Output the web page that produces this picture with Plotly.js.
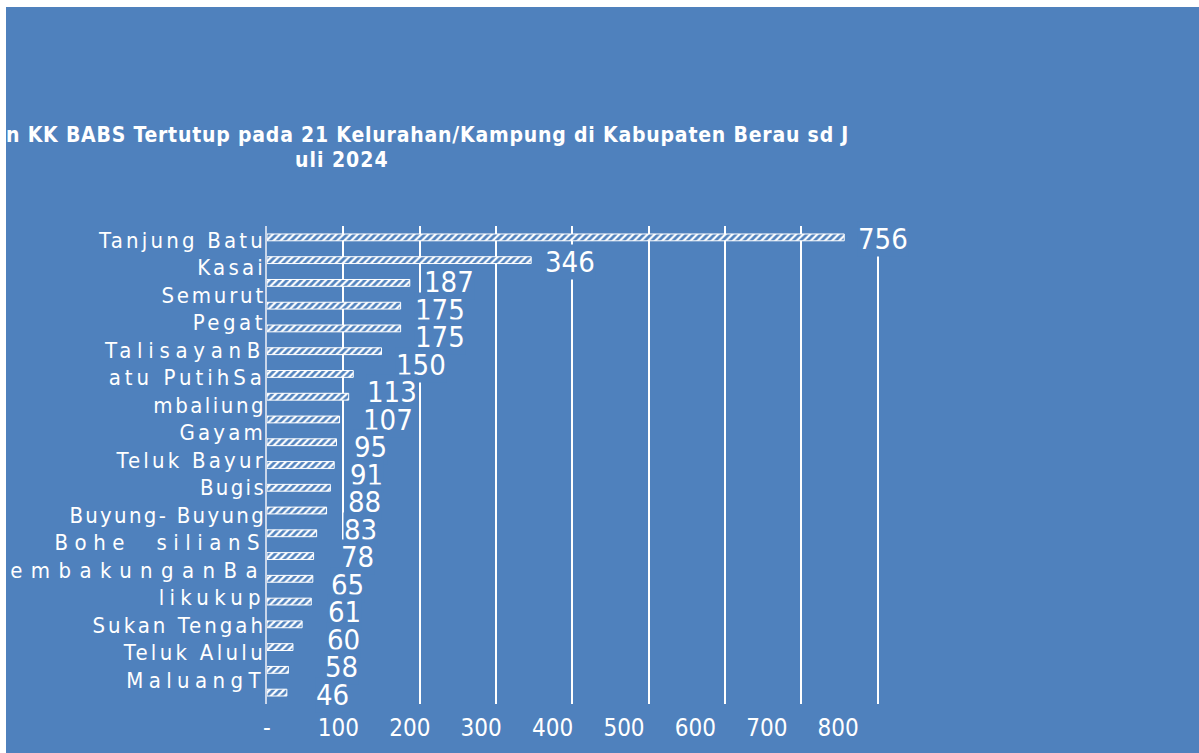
<!DOCTYPE html>
<html>
<head>
<meta charset="utf-8">
<script src="https://cdn.plot.ly/plotly-3.0.1.min.js"></script>
<style>
  html, body { margin: 0; padding: 0; background: #ffffff; }
  #chart { position: absolute; left: 6px; top: 7px; width: 1193px; height: 746px; }
  .y2tick text { letter-spacing: 3.2px; }
  .gtitle { letter-spacing: 0.8px; }
  .annotation[data-index="0"] text { letter-spacing: 1px; }
</style>
</head>
<body>
<div id="chart"></div>
<script>
// ---- data ----
const titleLine1 = "n KK BABS Tertutup pada 21 Kelurahan/Kampung di Kabupaten Berau sd J";
const titleLine2 = "uli 2024";
const categoryLabels = ["Tanjung Batu", "Kasai", "Semurut", "Pegat", "TalisayanB", "atu PutihSa",
  "mbaliung", "Gayam", "Teluk Bayur", "Bugis", "Buyung- Buyung", "Bohe  silianS",
  "embakunganBa", "likukup", "Sukan Tengah", "Teluk Alulu", "MaluangT", "embudanK"];
const values = [756, 346, 187, 175, 175, 150, 113, 107, 95, 91, 88, 83, 78, 65, 61, 60, 58, 46, 34, 28, 26];
const xTickVals = [0, 100, 200, 300, 400, 500, 600, 700, 800];
const xTickLabels = ["-", "100", "200", "300", "400", "500", "600", "700", "800"];

// ---- styling ----
const BG = "#4f81bd";
const FONT = "'DejaVu Sans Condensed', 'DejaVu Sans', sans-serif";
// justified look of the category labels: per-label letter spacing (px)
const labelSpacing = {
  "Semurut": 2.8, "Pegat": 3.5, "TalisayanB": 5.7, "atu PutihSa": 4.0, "mbaliung": 2.5,
  "Bugis": 2.3, "Buyung- Buyung": 2.3, "Bohe silianS": 6.5, "embakunganBa": 8.4,
  "likukup": 5.3, "Sukan Tengah": 3.0, "Teluk Alulu": 3.3, "MaluangT": 5.4
};

const barIdx = values.map((v, i) => i);
const labelIdx = categoryLabels.map((v, i) => i);

const bars = {
  type: "bar",
  orientation: "h",
  x: values,
  y: barIdx,
  width: 0.3,
  marker: {
    color: BG,
    line: { color: "#ffffff", width: 1 },
    pattern: { shape: "/", fgcolor: "#ffffff", bgcolor: BG, size: 5, solidity: 0.45, fillmode: "replace" }
  },
  hoverinfo: "x",
  showlegend: false
};
// empty helper traces so the overlay axes (tick label axes) are rendered
const helperX2 = { type: "scatter", x: [], y: [], xaxis: "x2", yaxis: "y", hoverinfo: "skip", showlegend: false };
const helperY2 = { type: "scatter", x: [], y: [], xaxis: "x", yaxis: "y2", hoverinfo: "skip", showlegend: false };
const helperY3 = { type: "scatter", x: [], y: [], xaxis: "x", yaxis: "y3", hoverinfo: "skip", showlegend: false };

// data labels as annotations with an opaque box (hides gridlines behind them)
const annotations = [{
  text: titleLine2, xref: "paper", yref: "paper", x: 0.046, y: 1.138,
  xanchor: "left", yanchor: "middle", showarrow: false,
  font: { family: FONT, size: 21, color: "#ffffff", weight: 700 }
}];
values.forEach((v, i) => {
  annotations.push({
    text: String(v), x: v, y: i, xref: "x", yref: i < 2 ? "y" : "y3",
    xanchor: "left", yanchor: "middle", xshift: 13, yshift: -2, showarrow: false,
    bgcolor: BG, borderpad: 0,
    font: { family: FONT, size: 29, color: "#ffffff" }
  });
});

const layout = {
  width: 1193, height: 746,
  paper_bgcolor: BG, plot_bgcolor: BG,
  margin: { l: 261, r: 283, t: 219, b: 49, pad: 0 },
  title: {
    text: titleLine1, xref: "container", yref: "container", x: 0, xanchor: "left",
    y: 0.8284, yanchor: "middle",
    font: { family: FONT, size: 21, color: "#ffffff", weight: 700 }
  },
  bargap: 0,
  xaxis: {
    range: [0, 850], tickvals: xTickVals.filter(v => v > 0), showticklabels: false,
    showgrid: true, gridcolor: "#ffffff", gridwidth: 2, zeroline: false, ticks: "",
    showline: false, fixedrange: true
  },
  xaxis2: {
    overlaying: "x", anchor: "y", side: "bottom", range: [0, 909],
    tickvals: xTickVals, ticktext: xTickLabels, showgrid: false, zeroline: false,
    ticks: "", showline: false, ticklabelstandoff: 7,
    tickfont: { family: FONT, size: 24, color: "#ffffff" }
  },
  yaxis: {
    range: [20.5, -0.5], showticklabels: false, showgrid: false, zeroline: false,
    showline: true, linecolor: "#c9d6ea", linewidth: 2, ticks: "", fixedrange: true
  },
  yaxis2: {
    overlaying: "y", anchor: "x", side: "left", range: [16.873, -0.509],
    tickvals: labelIdx, ticktext: categoryLabels, showgrid: false, zeroline: false,
    showline: false, ticks: "",
    tickfont: { family: FONT, size: 22, color: "#ffffff" }
  },
  yaxis3: {
    overlaying: "y", anchor: "x", side: "left", range: [17.418, 0.036],
    showticklabels: false, showgrid: false, zeroline: false, showline: false, ticks: ""
  },
  annotations: annotations,
  showlegend: false
};

Plotly.newPlot("chart", [bars, helperX2, helperY2, helperY3], layout, { displayModeBar: false, staticPlot: true })
  .then(function () {
    document.querySelectorAll(".y2tick text").forEach(function (t) {
      const key = t.textContent.replace(/\s+/g, " ").trim();
      if (labelSpacing[key] !== undefined) t.style.letterSpacing = labelSpacing[key] + "px";
    });
  });
</script>
</body>
</html>
